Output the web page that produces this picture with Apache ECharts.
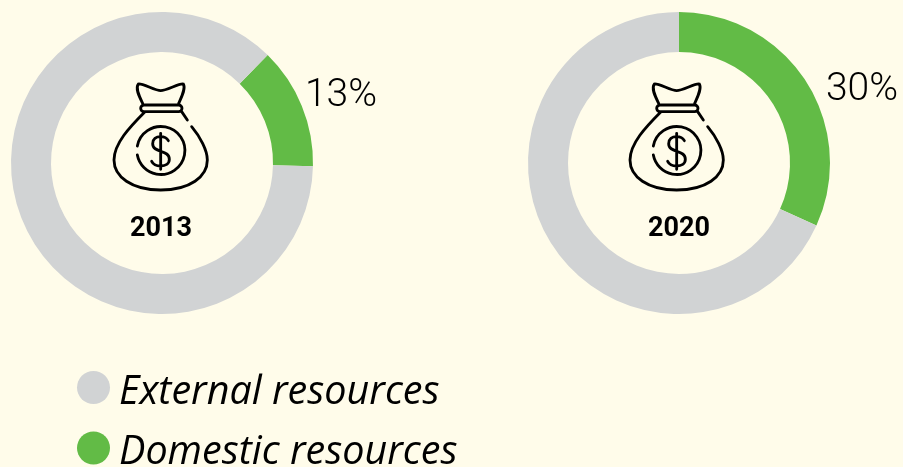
<!DOCTYPE html>
<html><head><meta charset="utf-8">
<script src="https://cdn.jsdelivr.net/npm/echarts@6/dist/echarts.min.js"></script>
<style>html,body{margin:0;padding:0;background:#fffcea}#c{width:903px;height:467px}</style>
</head><body><div id="c"></div>
<script>
const categories = ['External resources', 'Domestic resources'];
const years = ['2013', '2020'];
// Printed percentages
const domesticLabels = ['13%', '30%'];
// Slice shares as drawn in the picture (the 2020 arc is drawn slightly past its printed 30%)
const domesticArc = [13, 31.8];
const externalArc = [87, 68.2];
const colors = {external:'#d1d3d4', domestic:'#62bb46'};
const font = 'Open Sans';
const bagBody = 'M128 100C118 80 105 55 115 42C125 38 165 62 182 62C200 62 240 38 250 42C258 55 245 80 236 100M132 105L236 105A10 10 0 0 1 236 125L132 125A10 10 0 0 1 132 105M245 125L262 150M275 170C300 200 322 240 322 270C322 320 270 360 182 360C95 360 42 320 42 270C42 220 90 170 135 125M112 228A72 72 0 1 1 112 255';
const bagDollar = 'M205 212C200 203 192 200 182 200C168 200 158 207 158 221C158 250 208 238 208 268C208 282 196 288 182 288C170 288 160 284 155 274M182 190L182 298';
const centers = [[162,163],[679,163]];
const iconPos = [[100,70],[616,70]];
const labelPos = [[341,96],[862,90]];
const titleX = [156,674];
function ring(i){
  return {type:'pie', name:years[i], center:centers[i], radius:[111,151], startAngle:i?90:45.6, silent:true,
    label:{show:false}, labelLine:{show:false},
    data:[
      {name:categories[1], value:domesticArc[i], itemStyle:{color:colors.domestic},
       label:{show:true, formatter:domesticLabels[i], overflow:'none', fontFamily:'Roboto', fontWeight:300, fontSize:39, color:'#000', align:'center', verticalAlign:'middle'}, labelLine:{show:false}},
      {name:categories[0], value:externalArc[i], itemStyle:{color:colors.external}}
    ],
    labelLayout:{x:labelPos[i][0], y:labelPos[i][1], align:'center', verticalAlign:'middle', hideOverlap:false}
  };
}
const chart = echarts.init(document.getElementById('c'));
const stroke = {fill:null, stroke:'#000', lineWidth:8.5, lineCap:'round'};
const iconSeries = {type:'custom', coordinateSystem:'none', silent:true, z:5, data:[0,1],
  renderItem:function(params){
    const p = iconPos[params.dataIndex];
    return {type:'group', children:[bagBody,bagDollar].map(d=>({type:'path', x:p[0], y:p[1], scaleX:1/3, scaleY:1/3, shape:{pathData:d}, style:stroke}))};
  }};
chart.setOption({
  backgroundColor:'#fffcea',
  animation:false,
  title: years.map((y,i)=>({text:y, left:titleX[i], top:224, textAlign:'center', textVerticalAlign:'middle',
    textStyle:{fontFamily:'Roboto', fontWeight:'bold', fontSize:27, color:'#000'}})),
  legend:{data:categories, orient:'vertical', left:77, top:367, height:200, padding:0, itemWidth:33, itemHeight:33, itemGap:15, icon:'circle',
    formatter:function(name){ return '{s| }\n{t|'+name+'}'; },
    textStyle:{padding:[0,0,0,4], rich:{
      s:{fontSize:8, lineHeight:10},
      t:{fontFamily:font, fontStyle:'italic', fontSize:39.5, lineHeight:33, color:'#000'}
    }}},
  series:[ring(0), ring(1), iconSeries]
});
</script></body></html>
